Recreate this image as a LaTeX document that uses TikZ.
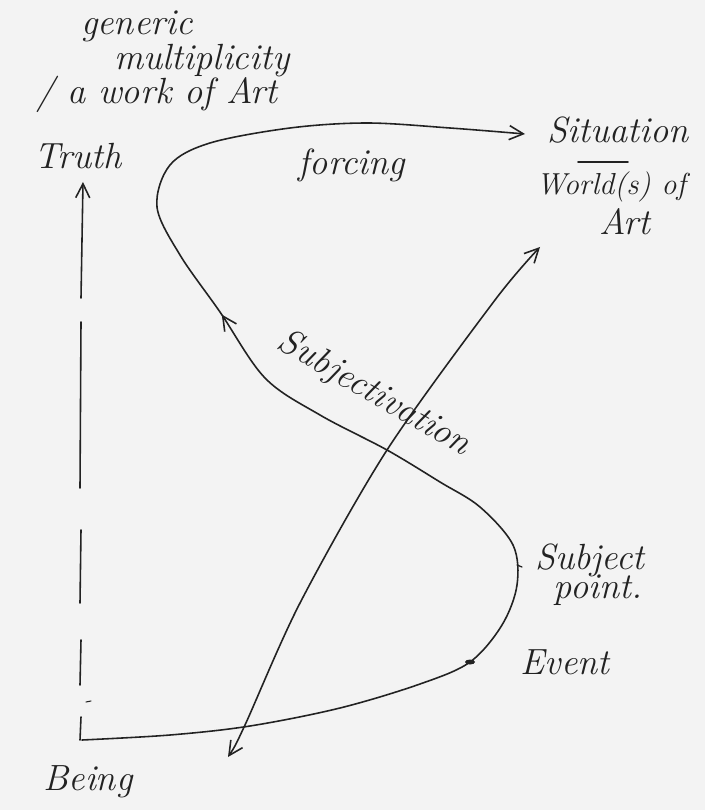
\documentclass[tikz,border=0pt]{standalone}
\usetikzlibrary{arrows.meta, decorations.markings}

\begin{document}
\begin{tikzpicture}[x=0.02cm, y=-0.02cm, font=\huge\itshape]
    % Define colours
    \definecolor{paperColour}{HTML}{F3F3F3}
    \definecolor{inkColour}{HTML}{222222}

    \tikzset{
        ink/.style={draw=inkColour, line width=0.9pt, line cap=round},
        barb/.style={-{Straight Barb[length=8pt, width=8pt]}},
        label/.style={text=inkColour, inner sep=1pt},
    }

    % Paper
    \fill[paperColour] (0,0) rectangle (705,810);
    \useasboundingbox (0,0) rectangle (705,810);

    % Labels
    \node[label] (generic) at (137,26) {generic};
    \node[label] (multi) at (202,61) {multiplicity};
    \node[label] (work) at (157,94) {/ a work of Art};
    \node[label] (truth) at (78,156) {Truth};
    \node[label] (forcing) at (352,165) {forcing};
    \node[label] (situation) at (618,130) {Situation};
    \node[label, font=\LARGE\itshape] (worlds) at (611,187) {World(s) of};
    \node[label] (art) at (625,222) {Art};
    \node[label, rotate=-30] (subj) at (374,394) {Subjectivation};
    \node[label] (subject) at (590,560) {Subject};
    \node[label] (point) at (598,590) {point.};
    \node[label] (event) at (565,662) {Event};
    \node[label] (being) at (88,782) {Being};

    % Key points
    \coordinate (corner) at (82,740);
    \coordinate (truthTip) at (83,182);
    \coordinate (eventPt) at (470,662);
    \coordinate (subjPt) at (517,565);
    \coordinate (cross) at (387,450);
    \coordinate (turn) at (157,207);
    \coordinate (sitTip) at (525,134);
    \coordinate (diagLow) at (228,757);
    \coordinate (diagHigh) at (540,247);

    % Draw broken axis up to Truth
    \foreach \ya/\yb in {740/717, 685/640, 603/530, 488/322}
        \draw[ink] (80,\ya) -- (81,\yb);
    \draw[ink, line width=0.6pt] (86,702) -- (91,701);
    \draw[ink, barb] (81,298) -- (truthTip);

    % Draw the S-curve from Being to Situation
    \draw[ink, barb, postaction={decorate},
        decoration={markings, mark=at position 0.63 with {\arrow{Straight Barb[length=8pt, width=8pt]}}}]
        plot[smooth, tension=0.55] coordinates {(corner) (170,735) (250,726) (340,708) (420,684) (eventPt)
            (502,625) (517,585) (513,545) (480,507) (440,482) (cross) (320,415) (265,378) (220,312)
            (180,255) (turn) (170,165) (210,143) (290,128) (367,123) (450,128) (sitTip)};

    % Marks for Event and Subject point
    \fill[inkColour] (eventPt) ellipse (5 and 2.5);
    \draw[ink, line width=0.7pt] (subjPt) -- ++(5,2);

    % Draw the diagonal double arrow
    \draw[ink, {Straight Barb[length=8pt, width=8pt]}-{Straight Barb[length=8pt, width=8pt]}]
        plot[smooth, tension=0.5] coordinates {(diagLow) (245,725) (300,603) (cross) (495,300) (diagHigh)};

    % Short rule between Situation and World(s)
    \draw[ink] (578,162) -- (628,162);

\end{tikzpicture}
\end{document}
